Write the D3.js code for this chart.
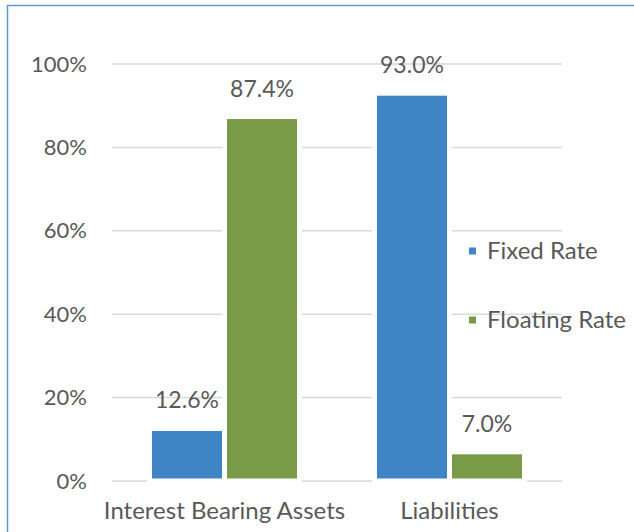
<!DOCTYPE html>
<html>
<head>
<meta charset="utf-8">
<script src="https://cdn.jsdelivr.net/npm/d3@7"></script>
<style>
  html, body { margin: 0; padding: 0; background: #fff; }
  text { font-family: Lato, "Open Sans", sans-serif; fill: #595959; }
</style>
</head>
<body>
<div id="chart"></div>
<script>
// data
const categories = ['Interest Bearing Assets', 'Liabilities'];
const seriesNames = ['Fixed Rate', 'Floating Rate'];
const fixedRate = [12.6, 93.0];
const floatingRate = [87.4, 7.0];
const yTicks = [0, 20, 40, 60, 80, 100];
const colors = ['#3f85c6', '#799b48'];

const W = 634, H = 532;
const margin = { top: 64, right: 72, bottom: 51, left: 112 };
const width = W - margin.left - margin.right;
const height = H - margin.top - margin.bottom;

const svg = d3.select('#chart').append('svg')
  .attr('width', W)
  .attr('height', H);

// outer frame (runs off the right and bottom edges)
svg.append('rect')
  .attr('x', 7.5).attr('y', 5.5)
  .attr('width', W + 20).attr('height', H + 20)
  .attr('fill', 'none')
  .attr('stroke', '#5b9bd5')
  .attr('stroke-width', 1.5);

const g = svg.append('g')
  .attr('transform', 'translate(' + margin.left + ',' + margin.top + ')');

const x0 = d3.scaleBand().domain(categories).range([0, width]).paddingInner(0).paddingOuter(0);
const x1 = d3.scaleBand().domain(seriesNames).range([0, x0.bandwidth() * 0.667]);
const y = d3.scaleLinear().domain([0, 100]).range([height, 0]);

// gridlines
g.append('g').selectAll('line').data(yTicks).enter().append('line')
  .attr('x1', 0).attr('x2', width)
  .attr('y1', d => y(d)).attr('y2', d => y(d))
  .attr('stroke', '#d9d9d9').attr('stroke-width', 1.5);

// y axis labels
const yAxis = d3.axisLeft(y).tickValues(yTicks).tickFormat(d => d + '%').tickSize(0).tickPadding(25);
const ya = g.append('g').call(yAxis);
ya.select('.domain').remove();
ya.selectAll('text').style('font-size', '22px').attr('font-family', null).attr('fill', '#595959');

const rows = categories.map((c, i) => ({ cat: c, vals: [fixedRate[i], floatingRate[i]] }));
const groupOffset = (x0.bandwidth() - x1.range()[1]) / 2;

const grp = g.selectAll('.grp').data(rows).enter().append('g')
  .attr('transform', d => 'translate(' + (x0(d.cat) + groupOffset) + ',0)');

grp.selectAll('rect').data(d => d.vals.map((v, j) => ({ name: seriesNames[j], v: v, j: j })))
  .enter().append('rect')
  .attr('x', d => x1(d.name))
  .attr('width', x1.bandwidth())
  .attr('y', d => y(d.v))
  .attr('height', d => y(0) - y(d.v))
  .attr('fill', d => colors[d.j])
  .attr('stroke', '#fff').attr('stroke-width', 5);

grp.selectAll('text.lbl').data(d => d.vals.map((v, j) => ({ name: seriesNames[j], v: v })))
  .enter().append('text').attr('class', 'lbl')
  .attr('x', d => x1(d.name) + x1.bandwidth() / 2)
  .attr('y', d => y(d.v) - 20)
  .attr('text-anchor', 'middle')
  .style('font-size', '23px')
  .text(d => d.v.toFixed(1) + '%');

// category labels
g.selectAll('text.cat').data(categories).enter().append('text').attr('class', 'cat')
  .attr('x', d => x0(d) + x0.bandwidth() / 2)
  .attr('y', height + 38)
  .attr('text-anchor', 'middle')
  .style('font-size', '24px')
  .text(d => d);

// legend
const lg = svg.append('g').attr('transform', 'translate(469,0)');
const items = lg.selectAll('g').data(seriesNames).enter().append('g')
  .attr('transform', (d, i) => 'translate(0,' + (251 + i * 69) + ')');
items.append('rect').attr('x', 0).attr('y', -3.5).attr('width', 7).attr('height', 7)
  .attr('fill', (d, i) => colors[i]);
items.append('text').attr('x', 18).attr('y', 8)
  .style('font-size', '24px')
  .text(d => d);
</script>
</body>
</html>
